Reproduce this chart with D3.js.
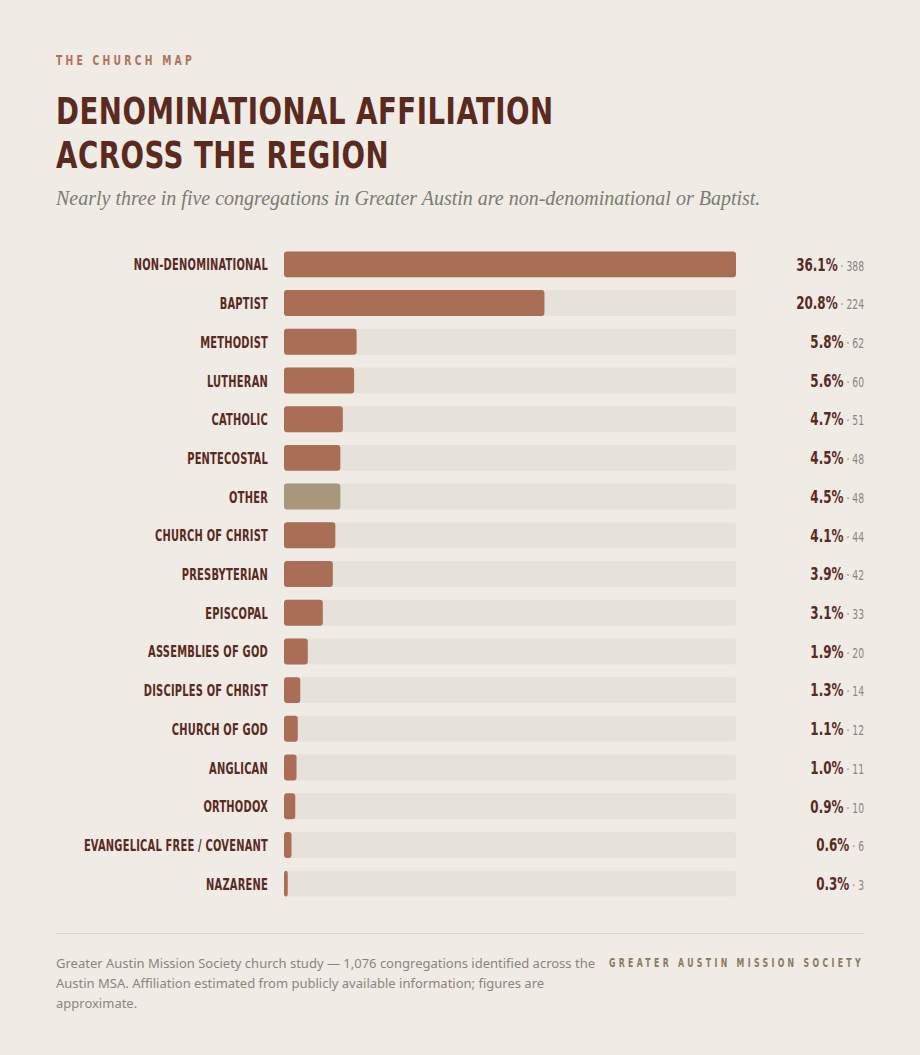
<!DOCTYPE html>
<html>
<head>
<meta charset="utf-8">
<script src="https://cdn.jsdelivr.net/npm/d3@7"></script>
<style>
  html, body { margin: 0; padding: 0; background: #f0ebe5; }
  svg { display: block; }
  .cond { font-family: "DejaVu Sans", sans-serif; font-stretch: condensed; }
</style>
</head>
<body>
<svg id="chart" width="920" height="1055"></svg>
<script>
const categories = ["NON-DENOMINATIONAL","BAPTIST","METHODIST","LUTHERAN","CATHOLIC","PENTECOSTAL","OTHER","CHURCH OF CHRIST","PRESBYTERIAN","EPISCOPAL","ASSEMBLIES OF GOD","DISCIPLES OF CHRIST","CHURCH OF GOD","ANGLICAN","ORTHODOX","EVANGELICAL FREE / COVENANT","NAZARENE"];
const percents = [36.1,20.8,5.8,5.6,4.7,4.5,4.5,4.1,3.9,3.1,1.9,1.3,1.1,1.0,0.9,0.6,0.3];
const counts = [388,224,62,60,51,48,48,44,42,33,20,14,12,11,10,6,3];
const titleLines = ["DENOMINATIONAL AFFILIATION", "ACROSS THE REGION"];
const footLines = ["Greater Austin Mission Society church study — 1,076 congregations identified across the",
  "Austin MSA. Affiliation estimated from publicly available information; figures are",
  "approximate."];

const svg = d3.select("#chart");
const W = 920, H = 1055;
svg.append("rect").attr("width", W).attr("height", H).attr("fill", "#f0ebe5");

// condensed text helper: horizontally squeezed group
function cond(parent, x, y, sx) {
  return parent.append("g").attr("transform", `translate(${x},${y}) scale(${sx},1)`)
    .append("text").attr("class", "cond").attr("x", 0).attr("y", 0);
}

// Header
cond(svg, 56, 65, 0.76).attr("font-size", 13.5).attr("font-weight", 700)
  .attr("letter-spacing", 4.3).attr("fill", "#b0735a").text("THE CHURCH MAP");
titleLines.forEach((t, i) => {
  cond(svg, 56, 124 + i * 44, 0.83).attr("font-size", 37).attr("font-weight", 700)
    .attr("letter-spacing", 0.6).attr("fill", "#5a2a1f").text(t);
});
svg.append("text").attr("x", 56).attr("y", 205)
  .attr("font-family", '"Liberation Serif", "DejaVu Serif", serif').attr("font-style", "italic")
  .attr("font-size", 20).attr("fill", "#7b7b73")
  .text("Nearly three in five congregations in Greater Austin are non-denominational or Baptist.");

// Scales
const x = d3.scaleLinear().domain([0, d3.max(percents)]).range([284, 736]);
const y = d3.scaleBand().domain(categories).range([245, 903]).paddingInner(0.33).paddingOuter(0.165);

const rows = svg.append("g").selectAll("g").data(categories).join("g");

rows.append("rect").attr("x", x(0)).attr("y", d => y(d)).attr("width", x.range()[1] - x(0))
  .attr("height", y.bandwidth()).attr("rx", 3).attr("fill", "#e7e2d9");
rows.append("rect").attr("x", x(0)).attr("y", d => y(d))
  .attr("width", (d, i) => Math.max(2, x(percents[i]) - x(0)))
  .attr("height", y.bandwidth()).attr("rx", 3)
  .attr("fill", d => d === "OTHER" ? "#a8977a" : "#a96e55");

rows.append("g").attr("transform", d => `translate(268,${y(d) + y.bandwidth() / 2 + 0.5}) scale(0.71,1)`)
  .append("text").attr("class", "cond")
  .attr("dy", "0.36em").attr("text-anchor", "end")
  .attr("font-size", 15.5).attr("font-weight", 700).attr("letter-spacing", 0.3)
  .attr("fill", "#5a2a1f").text(d => d);

const vt = rows.append("g").attr("transform", d => `translate(864,${y(d) + y.bandwidth() / 2 + 0.5}) scale(0.76,1)`)
  .append("text").attr("class", "cond")
  .attr("dy", "0.36em").attr("text-anchor", "end");
vt.append("tspan").attr("font-size", 17.5).attr("font-weight", 700).attr("fill", "#5a2a1f")
  .text((d, i) => percents[i].toFixed(1) + "%");
vt.append("tspan").attr("font-size", 13.5).attr("fill", "#8a8580")
  .text((d, i) => " · " + counts[i]);

// Footer
svg.append("line").attr("x1", 56).attr("x2", 864).attr("y1", 933.5).attr("y2", 933.5)
  .attr("stroke", "#d9d3ca").attr("stroke-width", 1);
const foot = svg.append("text").attr("font-family", '"Noto Sans", "DejaVu Sans", sans-serif')
  .attr("font-size", 13).attr("fill", "#8a8580");
footLines.forEach((t, i) => foot.append("tspan").attr("x", 56).attr("y", 968 + i * 20).text(t));
cond(svg, 864, 967, 0.76).attr("text-anchor", "end")
  .attr("font-size", 11.4).attr("font-weight", 700)
  .attr("letter-spacing", 4.4).attr("fill", "#8a7a60").text("GREATER AUSTIN MISSION SOCIETY");
</script>
</body>
</html>
